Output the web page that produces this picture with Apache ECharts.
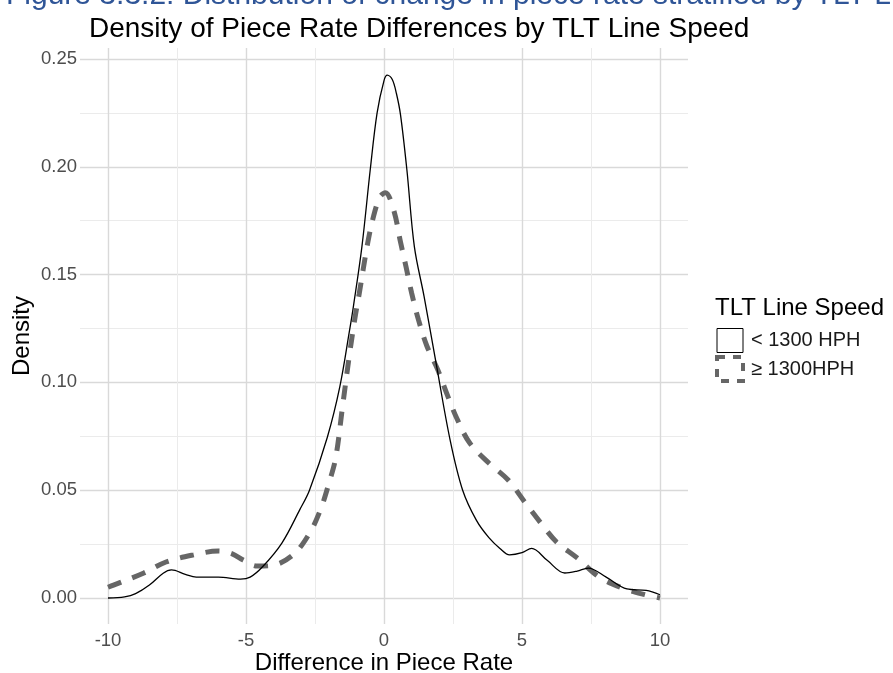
<!DOCTYPE html>
<html>
<head>
<meta charset="utf-8">
<script src="https://cdn.jsdelivr.net/npm/echarts@6/dist/echarts.min.js"></script>
<style>html,body{margin:0;padding:0;background:#fff}#c{width:893px;height:673px}</style>
</head>
<body>
<div id="c"></div>
<script>
// ---- data ----
const lowX = [-10, -9.4, -9.0, -8.5, -8.0, -7.7, -7.2, -6.8, -6.0, -5.2, -4.85, -4.4, -3.7, -3.05, -2.7, -2.05, -1.6, -1.25, -1.1, -0.8, -0.5, -0.25, 0, 0.12, 0.3, 0.45, 0.6, 0.83, 1.1, 1.45, 1.9, 2.4, 2.85, 3.35, 3.8, 4.2, 4.55, 5.0, 5.35, 5.9, 6.55, 7.0, 7.4, 8.05, 8.8, 9.5, 10];
const lowY = [0, 0.0005, 0.002, 0.006, 0.0115, 0.013, 0.011, 0.0097, 0.0097, 0.0088, 0.0097, 0.0145, 0.0255, 0.041, 0.050, 0.0747, 0.098, 0.124, 0.136, 0.163, 0.1985, 0.225, 0.240, 0.2425, 0.2405, 0.234, 0.224, 0.1985, 0.163, 0.140, 0.108, 0.073, 0.050, 0.036, 0.028, 0.023, 0.020, 0.021, 0.023, 0.0176, 0.0116, 0.0125, 0.0139, 0.0097, 0.0042, 0.0035, 0.0015];
const highX = [-10, -9.8, -8.7, -7.9, -6.9, -6.0, -5.5, -5.1, -4.6, -4.1, -3.3, -2.7, -2.3, -2.0, -1.75, -1.5, -1.25, -1.05, -0.9, -0.6, -0.4, -0.15, 0.05, 0.35, 0.6, 0.8, 1.0, 1.25, 1.55, 1.95, 2.3, 2.65, 3.1, 3.8, 4.5, 5.1, 5.65, 6.25, 7.0, 7.8, 8.65, 9.5, 10];
const highY = [0.005, 0.006, 0.0116, 0.0167, 0.020, 0.0218, 0.0205, 0.0176, 0.0148, 0.0150, 0.020, 0.030, 0.041, 0.053, 0.065, 0.089, 0.113, 0.130, 0.141, 0.164, 0.176, 0.186, 0.188, 0.180, 0.165, 0.1535, 0.1415, 0.129, 0.117, 0.1058, 0.094, 0.083, 0.072, 0.0626, 0.0547, 0.0445, 0.0353, 0.026, 0.0186, 0.0097, 0.0046, 0.0014, 0];
const seriesNames = ['< 1300 HPH', '≥ 1300HPH'];
const xTicks = [-10, -5, 0, 5, 10];
const yTicks = [0, 0.05, 0.10, 0.15, 0.20, 0.25];

const FONT = 'Liberation Sans, Arial, sans-serif';
const zip = (xs, ys) => xs.map((x, i) => [x, ys[i]]);

const chart = echarts.init(document.getElementById('c'), null, {renderer: 'canvas'});
const majorLine = {show: true, lineStyle: {color: '#d9d9d9', width: 1.4}};
const minorLine = {show: true, lineStyle: {color: '#ebebeb', width: 1}};

chart.setOption({
  backgroundColor: '#ffffff',
  animation: false,
  textStyle: {fontFamily: FONT},
  title: [
    {text: 'Density of Piece Rate Differences by TLT Line Speed', left: 84, top: 10,
     textStyle: {fontSize: 28, fontWeight: 'normal', color: '#000', fontFamily: FONT}},
    {text: 'TLT Line Speed', left: 710, top: 291,
     textStyle: {fontSize: 24, fontWeight: 'normal', color: '#000', fontFamily: FONT}}
  ],
  graphic: [
    {type: 'text', left: 6, top: -19, silent: true,
     style: {text: 'Figure 3.3.2: Distribution of change in piece rate stratified by TLT Line Speed',
             fontSize: 30, fill: '#2f5597', fontFamily: FONT}}
  ],
  legend: {
    orient: 'vertical', left: 715, top: 328, padding: 0, itemWidth: 26, itemGap: 2, itemHeight: 24,
    textStyle: {fontSize: 20, lineHeight: 24, color: '#1a1a1a', fontFamily: FONT, padding: [0, 0, 0, 3]},
    data: [
      {name: seriesNames[0], icon: 'rect', itemStyle: {color: 'rgba(0,0,0,0)', borderColor: '#000', borderWidth: 1}},
      {name: seriesNames[1], icon: 'rect', itemStyle: {color: 'rgba(0,0,0,0)', borderColor: '#666', borderWidth: 4, borderType: [8, 8]}}
    ]
  },
  grid: [
    {left: 108, right: 233, top: 59, bottom: 75, outerBoundsMode: 'none', containLabel: false},   // data
    {left: 108, right: 233, top: 48, bottom: 49, outerBoundsMode: 'none', containLabel: false},   // vertical grid + x labels
    {left: 80, right: 205, top: 59, bottom: 75, outerBoundsMode: 'none', containLabel: false}     // horizontal grid + y labels
  ],
  xAxis: [
    {gridIndex: 0, type: 'value', min: xTicks[0], max: xTicks[xTicks.length - 1], show: false},
    {gridIndex: 1, type: 'value', min: xTicks[0], max: xTicks[xTicks.length - 1], interval: 5,
     axisLine: {show: false}, axisTick: {show: false},
     axisLabel: {fontSize: 18.5, color: '#4d4d4d', margin: 7, fontFamily: FONT},
     splitLine: majorLine, minorTick: {show: false, splitNumber: 2}, minorSplitLine: minorLine,
     name: 'Difference in Piece Rate', nameLocation: 'middle', nameGap: 27, nameMoveOverlap: false,
     nameTextStyle: {fontSize: 24, color: '#000', fontFamily: FONT}},
    {gridIndex: 2, type: 'value', min: 0, max: 1, show: false}
  ],
  yAxis: [
    {gridIndex: 0, type: 'value', min: yTicks[0], max: yTicks[yTicks.length - 1], show: false},
    {gridIndex: 1, type: 'value', min: 0, max: 1, axisLine: {show: false}, axisTick: {show: false},
     axisLabel: {show: false}, splitLine: {show: false},
     name: 'Density', nameLocation: 'middle', nameGap: 74, nameRotate: 90, nameMoveOverlap: false,
     nameTextStyle: {fontSize: 24, color: '#000', fontFamily: FONT}},
    {gridIndex: 2, type: 'value', min: yTicks[0], max: yTicks[yTicks.length - 1], interval: 0.05,
     axisLine: {show: false}, axisTick: {show: false},
     axisLabel: {fontSize: 18.5, color: '#4d4d4d', margin: 3, fontFamily: FONT,
                 formatter: v => v.toFixed(2)},
     splitLine: majorLine, minorTick: {show: false, splitNumber: 2}, minorSplitLine: minorLine}
  ],
  series: [
    {name: seriesNames[0], type: 'line', xAxisIndex: 0, yAxisIndex: 0, data: zip(lowX, lowY),
     smooth: 0.35, showSymbol: false, symbol: 'none', clip: false, z: 3,
     lineStyle: {color: '#000', width: 1.3},
     itemStyle: {color: 'rgba(0,0,0,0)', borderColor: '#000'}},
    {name: seriesNames[1], type: 'line', xAxisIndex: 0, yAxisIndex: 0, data: zip(highX, highY),
     smooth: 0.35, showSymbol: false, symbol: 'none', clip: false, z: 2,
     lineStyle: {color: '#666', width: 5, type: [14, 12], cap: 'butt'},
     itemStyle: {color: 'rgba(0,0,0,0)', borderColor: '#666'}}
  ]
});
</script>
</body>
</html>
